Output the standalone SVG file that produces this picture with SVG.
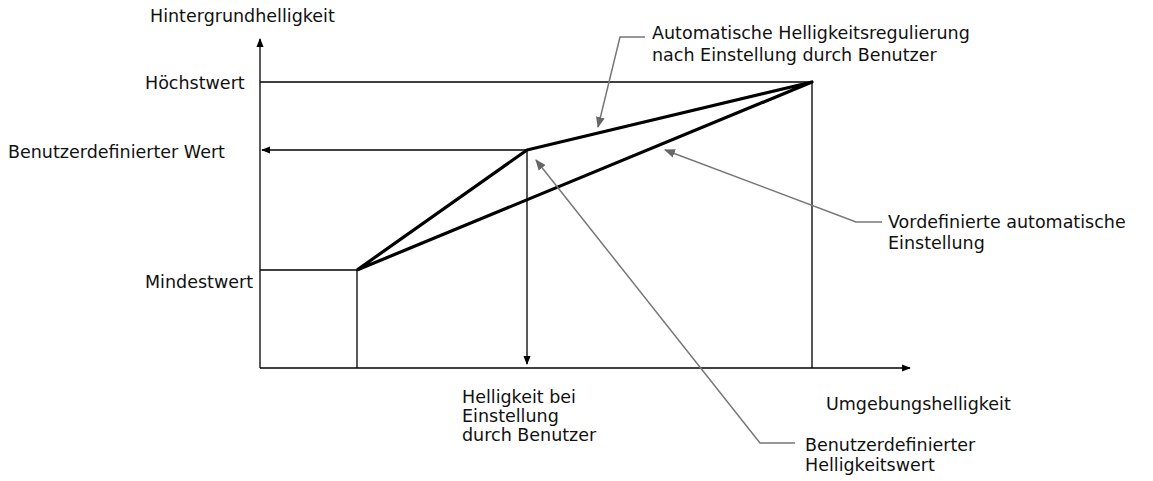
<svg xmlns="http://www.w3.org/2000/svg" width="1153" height="481" viewBox="0 0 1153 481">
<defs>
<marker id="a" viewBox="0 0 10 10" refX="9" refY="5" markerWidth="9" markerHeight="9" markerUnits="userSpaceOnUse" orient="auto"><path d="M0,1 L10,5 L0,9 z" fill="#000"/></marker>
<marker id="g" viewBox="0 0 10 10" refX="9" refY="5" markerWidth="11" markerHeight="11" markerUnits="userSpaceOnUse" orient="auto"><path d="M0,1 L10,5 L0,9 z" fill="#666"/></marker>
</defs>
<style>
text{font-family:"DejaVu Sans",sans-serif;font-size:17.5px;fill:#111}
.l{stroke:#000;stroke-width:1.3;fill:none}
.t{stroke:#000;stroke-width:3.2;fill:none;stroke-linejoin:round}
.gl{stroke:#777;stroke-width:1.5;fill:none}
</style>
<rect width="1153" height="481" fill="#fff"/>
<g id="connectors">
<line class="l" x1="260" y1="368" x2="260" y2="39" marker-end="url(#a)"/>
<line class="l" x1="260" y1="368" x2="910" y2="368" marker-end="url(#a)"/>
<polyline class="l" points="260,82 812,82 812,368"/>
<polyline class="l" points="260,270 357,270 357,368"/>
<line class="l" x1="527" y1="150" x2="262" y2="150" marker-end="url(#a)"/>
<line class="l" x1="527" y1="150" x2="527" y2="364" marker-end="url(#a)"/>
<polyline class="t" points="357,270 527,150 812,82 357,270"/>
<polyline class="gl" points="645,37 620,37 598,127" marker-end="url(#g)"/>
<polyline class="gl" points="882,222 856,222 665,150" marker-end="url(#g)"/>
<polyline class="gl" points="795,443 760,443 536,160" marker-end="url(#g)"/>
</g>
<g id="labels">
<text x="150" y="22">Hintergrundhelligkeit</text>
<text x="145" y="89">Höchstwert</text>
<text x="8" y="158">Benutzerdefinierter Wert</text>
<text x="145" y="288">Mindestwert</text>
<text x="462" y="403">Helligkeit bei</text>
<text x="462" y="422">Einstellung</text>
<text x="462" y="441">durch Benutzer</text>
<text x="826" y="410">Umgebungshelligkeit</text>
<text x="652" y="39">Automatische Helligkeitsregulierung</text>
<text x="652" y="61">nach Einstellung durch Benutzer</text>
<text x="888" y="228">Vordefinierte automatische</text>
<text x="888" y="249">Einstellung</text>
<text x="805" y="451">Benutzerdefinierter</text>
<text x="805" y="471">Helligkeitswert</text>
</g>
</svg>
